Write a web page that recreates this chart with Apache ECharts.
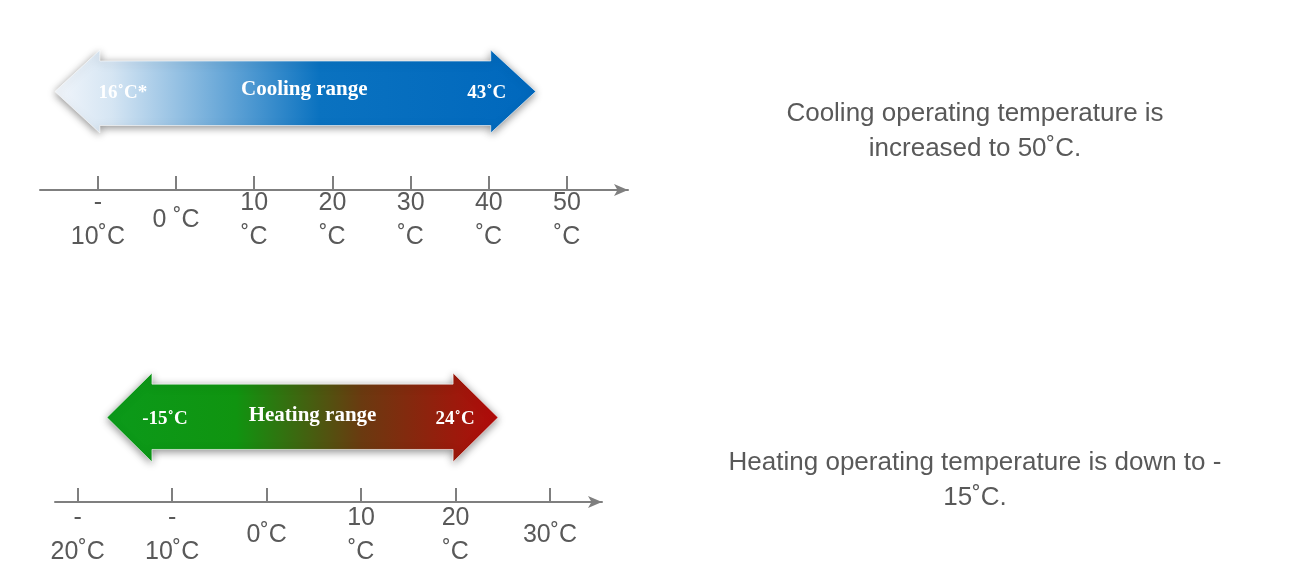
<!DOCTYPE html>
<html><head><meta charset="utf-8">
<script src="https://cdn.jsdelivr.net/npm/echarts@6/dist/echarts.min.js"></script>
<style>html,body{margin:0;padding:0;background:#fff}#c{width:1289px;height:574px}</style>
</head><body><div id="c"></div>
<script>
// Data
const coolTicks = [-10, 0, 10, 20, 30, 40, 50];
const coolTickLabels = ['-\n10˚C', '0 ˚C', '10\n˚C', '20\n˚C', '30\n˚C', '40\n˚C', '50\n˚C'];
const heatTicks = [-20, -10, 0, 10, 20, 30];
const heatTickLabels = ['-\n20˚C', '-\n10˚C', '0˚C', '10\n˚C', '20\n˚C', '30˚C'];
const coolArrow = [-15.5, 46];   // arrow extent in °C on the cooling axis
const heatArrow = [-16.9, 24.5]; // arrow extent in °C on the heating axis
const coolLabels = ['16˚C*', 'Cooling range', '43˚C'];
const heatLabels = ['-15˚C', 'Heating range', '24˚C'];
const coolNote = 'Cooling operating temperature is\nincreased to 50˚C.';
const heatNote = 'Heating operating temperature is down to -\n15˚C.';

const gray = '#595959';
function axis(idx, min, max, ticks, labels, margin) {
  return {
    type: 'value', gridIndex: idx, min: min, max: max,
    axisLine: {show: true, symbol: ['none', 'arrow'], symbolSize: [9, 14], lineStyle: {color: '#7f7f7f', width: 2}},
    axisTick: {show: true, inside: true, length: 14, customValues: ticks, lineStyle: {color: '#7f7f7f', width: 2}},
    axisLabel: {customValues: ticks, margin: margin, verticalAlign: 'middle', color: gray, fontSize: 25,
      fontFamily: 'Liberation Sans, Arial', lineHeight: 34,
      formatter: v => labels[ticks.indexOf(v)]},
    splitLine: {show: false}
  };
}
function arrowItem(yv, stops, labels, offs) {
  return function (params, api) {
    const a = api.coord([api.value(0), 0]), b = api.coord([api.value(1), 0]);
    const x0 = a[0], x1 = b[0];
    const yt = api.coord([0, yv[0]])[1], bt = api.coord([0, yv[1]])[1],
          bb = api.coord([0, yv[2]])[1], yb = api.coord([0, yv[3]])[1];
    const ym = (yt + yb) / 2, hw = 45;
    const pts = [[x0, ym], [x0 + hw, yt], [x0 + hw, bt], [x1 - hw, bt], [x1 - hw, yt], [x1, ym],
                 [x1 - hw, yb], [x1 - hw, bb], [x0 + hw, bb], [x0 + hw, yb]];
    const ts = {fill: '#fff', fontSize: 19, fontWeight: 'bold', fontFamily: 'Liberation Serif, Times New Roman',
                align: 'center', verticalAlign: 'middle'};
    return {type: 'group', children: [
      {type: 'polygon', shape: {points: pts},
       style: {fill: new echarts.graphic.LinearGradient(0, 0, 1, 0, stops), stroke: 'rgba(255,255,255,0.6)', lineWidth: 1,
               shadowBlur: 8, shadowColor: 'rgba(0,0,0,0.45)', shadowOffsetY: 2}},
      {type: 'text', style: Object.assign({text: labels[0], x: x0 + offs[0], y: ym + 2}, ts)},
      {type: 'text', style: Object.assign({text: labels[1], x: (x0 + x1) / 2 + offs[1], y: ym - 2}, ts, {fontSize: 21})},
      {type: 'text', style: Object.assign({text: labels[2], x: x1 - offs[2], y: ym + 2}, ts)}
    ]};
  };
}
const chart = echarts.init(document.getElementById('c'));
chart.setOption({
  animation: false,
  grid: [{left: 40, width: 588, top: 40, height: 150}, {left: 55, width: 547, top: 360, height: 142}],
  xAxis: [axis(0, -17.4, 57.8, coolTicks, coolTickLabels, 30), axis(1, -22.4, 35.5, heatTicks, heatTickLabels, 33)],
  yAxis: [{gridIndex: 0, min: 0, max: 1, show: false}, {gridIndex: 1, min: 0, max: 1, show: false}],
  series: [
    {type: 'custom', xAxisIndex: 0, yAxisIndex: 0, data: [coolArrow],
     renderItem: arrowItem([0.933, 0.86, 0.43, 0.38],
       [{offset: 0, color: '#f2f6fb'}, {offset: 0.12, color: '#d5e5f3'}, {offset: 0.55, color: '#0a72c0'}, {offset: 1, color: '#0068bd'}],
       coolLabels, [68, 9, 49])},
    {type: 'custom', xAxisIndex: 1, yAxisIndex: 1, data: [heatArrow],
     renderItem: arrowItem([0.908, 0.83, 0.37, 0.282],
       [{offset: 0, color: '#0b9a1a'}, {offset: 0.33, color: '#109410'}, {offset: 0.65, color: '#6a3a10'}, {offset: 1, color: '#b40a0a'}],
       heatLabels, [58, 10, 43])}
  ],
  graphic: [
    {type: 'text', x: 975, y: 96, style: {text: coolNote, align: 'center', fill: gray, fontSize: 26, lineHeight: 35, fontFamily: 'Liberation Sans, Arial'}},
    {type: 'text', x: 975, y: 445, style: {text: heatNote, align: 'center', fill: gray, fontSize: 26, lineHeight: 35, fontFamily: 'Liberation Sans, Arial'}}
  ]
});
</script></body></html>
